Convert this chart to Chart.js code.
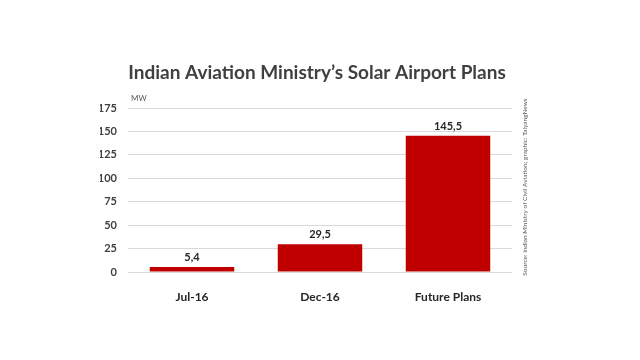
<!DOCTYPE html>
<html>
<head>
<meta charset="utf-8">
<script src="https://cdn.jsdelivr.net/npm/chart.js@4"></script>
<style>
  html, body { margin: 0; padding: 0; background: #fff; }
  #wrap { width: 640px; height: 360px; }
</style>
</head>
<body>
<div id="wrap"><canvas id="solarChart" width="640" height="360"></canvas></div>
<script>
// chart data
const categories = ['Jul-16', 'Dec-16', 'Future Plans'];
const capacityMW = [5.4, 29.5, 145.5];
const yTicks = [0, 25, 50, 75, 100, 125, 150, 175];
const titleText = 'Indian Aviation Ministry’s Solar Airport Plans';

const FONT = 'Lato, "Open Sans", sans-serif';

// title, value labels, unit text and source note
const extras = {
    id: 'extras',
    afterDatasetsDraw(chart) {
        const ctx = chart.ctx;
        const meta = chart.getDatasetMeta(0);
        const area = chart.chartArea;
        ctx.save();

        ctx.fillStyle = '#404040';
        ctx.font = 'bold 19px ' + FONT;
        ctx.textAlign = 'center';
        ctx.textBaseline = 'middle';
        ctx.fillText(titleText, 317, 73);

        ctx.fillStyle = '#262626';
        ctx.font = 'bold 11px ' + FONT;
        ctx.textBaseline = 'bottom';
        meta.data.forEach((bar, i) => {
            ctx.fillText(capacityMW[i].toFixed(1).replace('.', ','), bar.x, bar.y - 4);
        });

        ctx.fillStyle = '#595959';
        ctx.font = '8px ' + FONT;
        ctx.textAlign = 'left';
        ctx.textBaseline = 'middle';
        ctx.fillText('MW', area.left + 3, area.top - 10);

        ctx.translate(525, (area.top + area.bottom) / 2 - 3);
        ctx.rotate(-Math.PI / 2);
        ctx.font = '6.5px ' + FONT;
        ctx.textAlign = 'center';
        ctx.fillText('Source: Indian Ministry of Civil Aviation; graphic: TaiyangNews', 0, 0);
        ctx.restore();
    }
};

new Chart(document.getElementById('solarChart').getContext('2d'), {
    type: 'bar',
    data: {
        labels: categories,
        datasets: [{
            data: capacityMW,
            backgroundColor: '#c00000',
            barPercentage: 0.66,
            categoryPercentage: 1
        }]
    },
    options: {
        responsive: false,
        animation: false,
        layout: { padding: { left: 100, right: 128, top: 108, bottom: 58 } },
        plugins: {
            legend: { display: false },
            tooltip: { enabled: false },
            title: { display: false }
        },
        scales: {
            x: {
                grid: { display: false },
                border: { display: false },
                ticks: { color: '#262626', padding: 10, font: { family: FONT, size: 12, weight: 'bold' } },
                afterFit(scale) { scale.height = 30; }
            },
            y: {
                min: 0,
                max: 175,
                afterBuildTicks(scale) { scale.ticks = yTicks.map(v => ({ value: v })); },
                grid: { color: '#d9d9d9', drawTicks: false },
                border: { display: false },
                ticks: { color: '#404040', padding: 11, font: { family: FONT, size: 11, weight: 'bold' } },
                afterFit(scale) { scale.width = 28; }
            }
        }
    },
    plugins: [extras]
});
</script>
</body>
</html>
